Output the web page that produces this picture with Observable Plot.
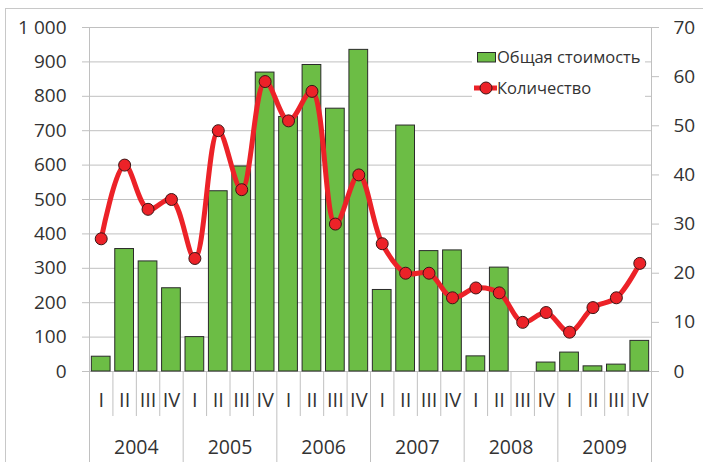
<!DOCTYPE html>
<html><head><meta charset="utf-8">
<script src="https://cdn.jsdelivr.net/npm/d3@7"></script>
<script src="https://cdn.jsdelivr.net/npm/@observablehq/plot@0.6"></script>
<style>
body{margin:0;background:#fff;}
#wrap{position:relative;width:703px;height:462px;overflow:hidden;font-family:"Open Sans",sans-serif;}
#border{position:absolute;left:5px;top:8px;width:800px;height:600px;border:1px solid #c8c8c8;box-sizing:border-box;}
#chart{position:absolute;left:0;top:0;}
#legend{position:absolute;left:0;top:0;}
</style></head><body>
<div id="wrap"><div id="border"></div><div id="chart"></div><div id="legend"></div></div>
<script>
const years = [2004, 2005, 2006, 2007, 2008, 2009];
const quarters = ["I", "II", "III", "IV"];
const seriesNames = ["Общая стоимость", "Количество"];
// Общая стоимость (left axis)
const cost = [43, 356, 320, 242, 100, 524, 596, 869, 740, 891, 764, 935,
              237, 715, 350, 352, 44, 302, 0, 26, 55, 15, 20, 89];
// Количество (right axis)
const count = [27, 42, 33, 35, 23, 49, 37, 59, 51, 57, 30, 40,
               26, 20, 20, 15, 17, 16, 10, 12, 8, 13, 15, 22];
const leftTicks = [0, 100, 200, 300, 400, 500, 600, 700, 800, 900, 1000];
const rightTicks = [0, 10, 20, 30, 40, 50, 60, 70];
const leftMax = 1000, rightMax = 70;

const toLeft = v => v * leftMax / rightMax;
const data = cost.map((c, i) => ({i, year: years[Math.floor(i / 4)], q: quarters[i % 4], cost: c, count: count[i]}));
const n = data.length;
const yearBounds = d3.range(4, n, 4);
const quarterBounds = d3.range(1, n).filter(b => b % 4 !== 0);

const green = "#6cbd45", red = "#ec2228", grid = "#c0c0c0", txt = "#333";
const fmt = d => d3.format(",")(d).replace(/,/g, " ");

const plot = Plot.plot({
  width: 703, height: 462,
  marginLeft: 89, marginRight: 52, marginTop: 27, marginBottom: 91,
  style: {fontFamily: "Open Sans", background: "transparent", color: txt},
  x: {type: "linear", domain: [0, n], axis: null},
  y: {domain: [0, leftMax], axis: null},
  marks: [
    Plot.ruleY(leftTicks, {stroke: grid, strokeWidth: 1}),
    Plot.axisY({ticks: leftTicks, tickSize: 7, tickPadding: 16, stroke: grid, fill: txt, fontSize: 19, tickFormat: fmt, label: null}),
    Plot.axisY({anchor: "right", ticks: rightTicks.map(toLeft), tickSize: 7, tickPadding: 15, stroke: grid, fill: txt, fontSize: 19, label: null,
                tickFormat: d => String(Math.round(d * rightMax / leftMax))}),
    Plot.ruleX([0, n], {stroke: grid, insetBottom: -91}),
    Plot.ruleX(yearBounds, {y1: 0, y2: 0, stroke: grid, insetBottom: -91}),
    Plot.ruleX(quarterBounds, {y1: 0, y2: 0, stroke: grid, insetBottom: -45}),
    Plot.rectY(data.filter(d => d.cost > 0), {x1: d => d.i + 0.1, x2: d => d.i + 0.9, y: "cost", fill: green, stroke: "#2a2a2a", strokeWidth: 1}),
    Plot.line(data, {x: d => d.i + 0.5, y: d => toLeft(d.count), stroke: red, strokeWidth: 5, curve: "catmull-rom"}),
    Plot.dot(data, {x: d => d.i + 0.5, y: d => toLeft(d.count), r: 6, fill: red, stroke: "#3b1515", strokeWidth: 1}),
    Plot.text(data, {x: d => d.i + 0.5, frameAnchor: "bottom", dy: 29, text: "q", fontSize: 20, fill: txt, lineAnchor: "middle"}),
    Plot.text(years, {x: (d, k) => k * 4 + 2, frameAnchor: "bottom", dy: 76, text: d => String(d), fontSize: 19.5, fill: txt, lineAnchor: "middle"})
  ]
});
document.getElementById("chart").appendChild(plot);

const lg = d3.select("#legend").append("svg").attr("width", 703).attr("height", 462)
  .style("font-family", "Open Sans");
lg.append("rect").attr("x", 472).attr("y", 40).attr("width", 173).attr("height", 60).attr("fill", "#fff");
lg.append("rect").attr("x", 477.5).attr("y", 52.5).attr("width", 18).attr("height", 9.5).attr("fill", green).attr("stroke", "#2a2a2a");
lg.append("text").attr("x", 497).attr("y", 62.5).attr("font-size", 16.5).attr("fill", txt).text(seriesNames[0]);
lg.append("line").attr("x1", 474).attr("x2", 497).attr("y1", 88).attr("y2", 88).attr("stroke", red).attr("stroke-width", 5);
lg.append("circle").attr("cx", 486).attr("cy", 88).attr("r", 6).attr("fill", red).attr("stroke", "#3b1515");
lg.append("text").attr("x", 497).attr("y", 94).attr("font-size", 16.5).attr("fill", txt).text(seriesNames[1]);
</script>
</body></html>
